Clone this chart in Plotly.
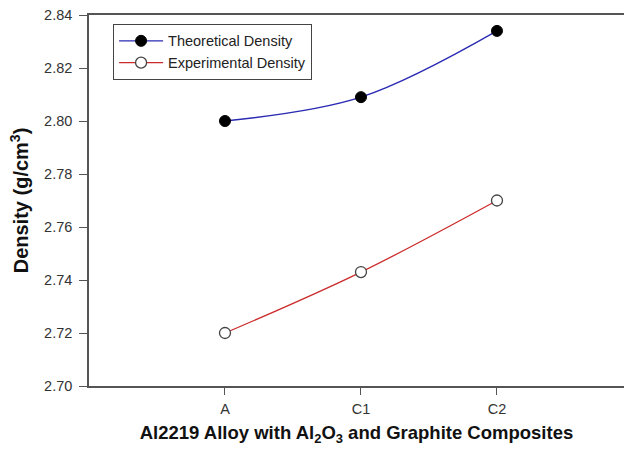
import plotly.graph_objects as go

# Sample groups and measured densities (g/cm^3)
categories = ["A", "C1", "C2"]
theoretical_density = [2.800, 2.809, 2.834]
experimental_density = [2.720, 2.743, 2.770]

y_ticks = [2.70, 2.72, 2.74, 2.76, 2.78, 2.80, 2.82, 2.84]

FONT = "Liberation Sans, Arial, sans-serif"
AXIS_COLOR = "#555555"

x_pos = list(range(len(categories)))

fig = go.Figure()

fig.add_trace(go.Scatter(
    x=x_pos, y=theoretical_density, name="Theoretical Density",
    mode="lines+markers", line=dict(color="#2a2ab4", width=1.3, shape="spline"),
    marker=dict(symbol="circle", size=11, color="black",
                line=dict(color="black", width=1)),
))

fig.add_trace(go.Scatter(
    x=x_pos, y=experimental_density, name="Experimental Density",
    mode="lines+markers", line=dict(color="#cc2b2b", width=1.3, shape="spline"),
    marker=dict(symbol="circle", size=11, color="white",
                line=dict(color="#444444", width=1.3)),
))

fig.update_layout(
    width=624, height=453,
    margin=dict(l=89, r=0, t=15, b=67),
    paper_bgcolor="white", plot_bgcolor="white",
    font=dict(family=FONT, size=14, color="#333333"),
    showlegend=True,
    legend=dict(
        x=0.045, y=0.976, xanchor="left", yanchor="top",
        bgcolor="white", bordercolor="#444444", borderwidth=1,
        font=dict(family=FONT, size=14.5, color="#222222"),
        tracegroupgap=0, itemwidth=44,
        entrywidth=158, entrywidthmode="pixels",
    ),
    xaxis=dict(
        range=[-1, 2.934],
        tickmode="array", tickvals=x_pos, ticktext=categories,
        showgrid=False, zeroline=False,
        showline=True, linecolor=AXIS_COLOR, linewidth=1.5, mirror=True,
        ticks="outside", ticklen=7, tickcolor=AXIS_COLOR,
        ticklabelstandoff=2,
        tickfont=dict(family=FONT, size=14.5, color="#333333"),
        title=dict(
            text="<b>Al2219 Alloy with Al<sub>2</sub>O<sub>3</sub> and Graphite Composites</b>",
            font=dict(family=FONT, size=18.5, color="#111111"), standoff=10,
        ),
    ),
    yaxis=dict(
        range=[2.70, 2.84],
        tickmode="array", tickvals=y_ticks,
        ticktext=[f"{v:.2f}" for v in y_ticks],
        showgrid=False, zeroline=False,
        showline=True, linecolor=AXIS_COLOR, linewidth=1.5, mirror=False,
        ticks="outside", ticklen=8, tickcolor=AXIS_COLOR,
        ticklabelstandoff=4,
        tickfont=dict(family=FONT, size=14.5, color="#333333"),
        title=dict(
            text="<b>Density (g/cm<sup>3</sup>)</b>",
            font=dict(family=FONT, size=20, color="#111111"), standoff=10,
        ),
    ),
)

fig.write_html("out.html")
